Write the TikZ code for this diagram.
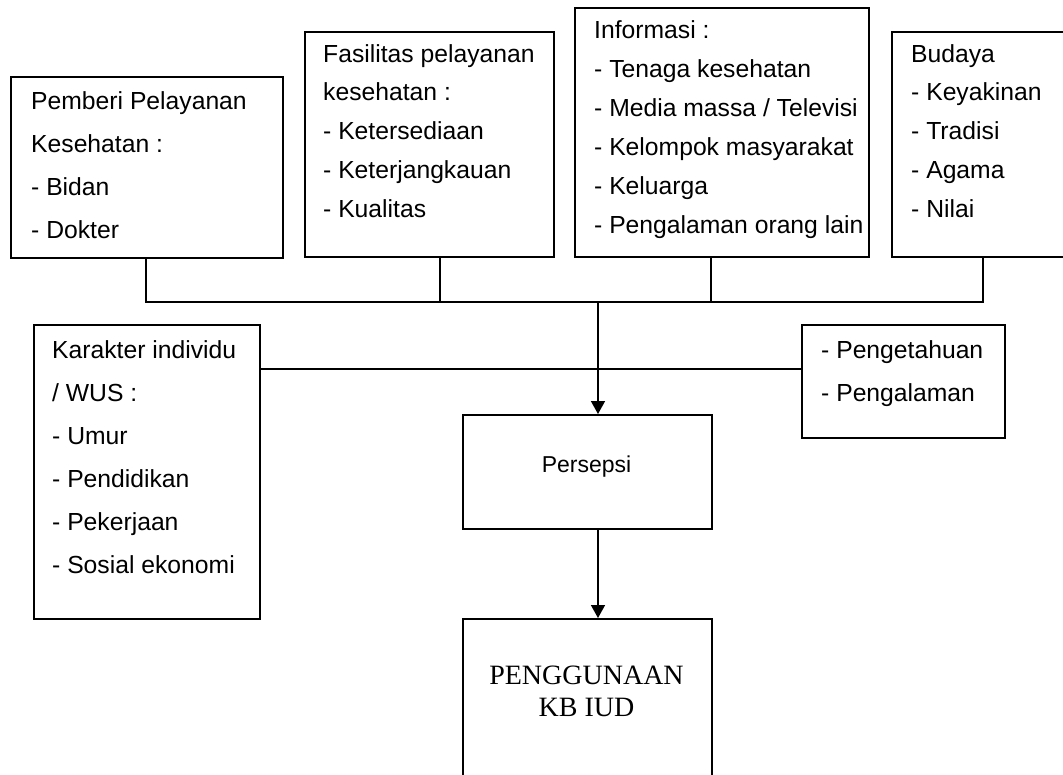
\documentclass[tikz,border=0pt]{standalone}
\usepackage{fontspec}
\setmainfont{Liberation Sans}
\newfontfamily\timesfont{Liberation Serif}
\usetikzlibrary{arrows.meta}
\begin{document}
\begin{tikzpicture}[x=1pt,y=-1pt,
  box/.style={draw, line width=1.6pt, inner sep=0pt, anchor=north west},
  txt/.style={anchor=base west, inner sep=0pt, font=\fontsize{24.7}{24.7}\selectfont},
  conn/.style={line width=1.6pt},
  arr/.style={line width=1.6pt, -{Triangle[width=14pt,length=13pt]}}]
\clip (0,0) rectangle (1063,774);
\fill[white] (0,0) rectangle (1063,774);
% boxes
\node[box, minimum width=272pt, minimum height=181pt] (b1) at (10,76) {};
\node[box, minimum width=249pt, minimum height=225pt] (b2) at (304,31) {};
\node[box, minimum width=294pt, minimum height=249pt] (b3) at (574,7) {};
\node[box, minimum width=180pt, minimum height=225pt] (b4) at (891,31) {};
\node[box, minimum width=226pt, minimum height=294pt] (b5) at (33,324) {};
\node[box, minimum width=203pt, minimum height=113pt] (b6) at (801,324) {};
\node[box, minimum width=249pt, minimum height=114pt] (per) at (462,414) {};
\node[box, minimum width=249pt, minimum height=190pt] (kb) at (462,618) {};
% texts
\foreach \s [count=\i from 0] in {Pemberi Pelayanan, Kesehatan :, - Bidan, - Dokter}
  \node[txt] (ta\i) at (31,109+43*\i) {\s};
\foreach \s [count=\i from 0] in {Fasilitas pelayanan, kesehatan :, - Ketersediaan, - Keterjangkauan, - Kualitas}
  \node[txt] (tb\i) at (323,62+38.75*\i) {\s};
\foreach \s [count=\i from 0] in {Informasi :, - Tenaga kesehatan, - Media massa / Televisi, - Kelompok masyarakat, - Keluarga, - Pengalaman orang lain}
  \node[txt] (tc\i) at (594,38+39*\i) {\s};
\foreach \s [count=\i from 0] in {Budaya, - Keyakinan, - Tradisi, - Agama, - Nilai}
  \node[txt] (td\i) at (911,62+38.75*\i) {\s};
\foreach \s [count=\i from 0] in {Karakter individu, / WUS :, - Umur, - Pendidikan, - Pekerjaan, - Sosial ekonomi}
  \node[txt] (te\i) at (52,358+43*\i) {\s};
\foreach \s [count=\i from 0] in {- Pengetahuan, - Pengalaman}
  \node[txt] (tf\i) at (821,358+43*\i) {\s};
\node[anchor=base, inner sep=0pt, font=\fontsize{23}{23}\selectfont] (tper) at (586.5,472) {Persepsi};
\node[anchor=base, inner sep=0pt, font=\timesfont\fontsize{28}{28}\selectfont] (tkb1) at (586.5,684) {PENGGUNAAN};
\node[anchor=base, inner sep=0pt, font=\timesfont\fontsize{28}{28}\selectfont] (tkb2) at (586.5,716) {KB IUD};
% connectors
\coordinate (j1) at (146,302);
\coordinate (j2) at (440,302);
\coordinate (j3) at (711,302);
\coordinate (j4) at (983,302);
\coordinate (jc) at (598,302);
\coordinate (hy) at (0,369);
\draw[conn] (b1.south -| j1) -- (j1) -- (j4) -- (b4.south -| j4);
\draw[conn] (b2.south -| j2) -- (j2);
\draw[conn] (b3.south -| j3) -- (j3);
\draw[conn] (b5.east |- hy) -- (b6.west |- hy);
\draw[arr] (jc) -- (per.north -| jc);
\draw[arr] (per.south -| jc) -- (kb.north -| jc);
\end{tikzpicture}
\end{document}
